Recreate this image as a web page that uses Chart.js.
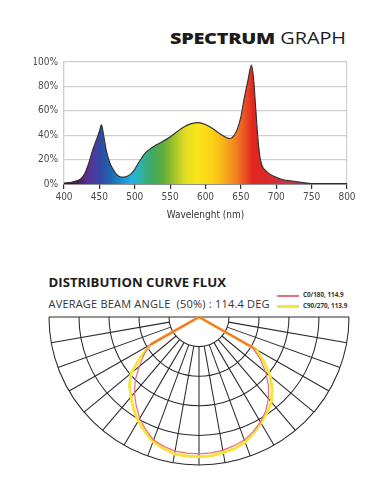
<!DOCTYPE html>
<html><head><meta charset="utf-8">
<script src="https://cdn.jsdelivr.net/npm/chart.js@4.4.1/dist/chart.umd.min.js"></script>
<style>
html,body{margin:0;padding:0;background:#fff;width:381px;height:492px;overflow:hidden;}
body{position:relative;font-family:"Open Sans",sans-serif;color:#1c1c1c;}
.abs{position:absolute;white-space:nowrap;}
#t1{right:35px;top:29.5px;font-size:16px;line-height:16px;transform:scaleX(1.24);transform-origin:right center;}
#t1 b{font-weight:800;letter-spacing:-0.2px}
#t1 span{font-weight:400}
#t2{left:48.5px;top:275.5px;font-size:13.2px;line-height:13.2px;font-weight:700;}
#t3{left:48.5px;top:297.5px;font-size:11px;line-height:11px;font-weight:400;color:#333;letter-spacing:0.2px}
#legend{left:277px;top:291px;}
.lg{position:relative;height:10.5px;}
.lg i{position:absolute;left:0;width:22px;}
.lg span{position:absolute;left:26px;top:0;font-size:6.3px;line-height:8px;font-weight:700;color:#333}
#cs{position:absolute;left:0;top:50px;}
#cp{position:absolute;left:0;top:300px;}
</style></head>
<body>
<div id="t1" class="abs"><b>SPECTRUM</b> <span>GRAPH</span></div>
<canvas id="cs" width="381" height="180"></canvas>
<div id="t2" class="abs">DISTRIBUTION CURVE FLUX</div>
<div id="t3" class="abs">AVERAGE BEAM ANGLE&nbsp; (50%) : 114.4 DEG</div>
<div id="legend" class="abs"></div>
<canvas id="cp" width="381" height="180"></canvas>
<script>
// ---------- Spectrum data ----------
const wavelengths = [400,410,420,425,430,435,440,445,450,453,456,460,465,470,475,480,485,490,495,500,505,510,515,520,530,540,550,560,570,580,590,600,610,620,630,635,640,645,650,655,660,665,668,671,674,677,680,685,690,700,710,720,730,740,750,760,800];
const intensity   = [0.8,1.5,3,5,9.5,17,27,35,43,48.5,40,27,17,11.5,7.5,5.8,5.6,6.5,8.5,12,17,21.5,25.5,28,32,35,38.5,43,47,49.5,50.3,48.8,45.5,41.3,38,37.3,39.5,45,55,71,85,97.5,86,62,38,22,15,11,8.5,5.5,3.5,2.6,1.9,1,0.3,0,0];
const xTicks = [400,450,500,550,600,650,700,750,800];
const yTicks = [0,20,40,60,80,100];

// spectral colour ramp (style)
const rampNm  = [400,418,430,442,452,466,482,496,508,522,540,556,572,588,610,628,642,655,667,690,720,770];
const rampCol = ['#2a1c2c','#3a1e4a','#5c2a8a','#4b3b9e','#2f4ba3','#1f66b0','#1c8fd2','#20b3e3','#2db4a8','#3da96a','#5cad3c','#a4c42c','#e2de20','#f8e51b','#fbd214','#f7aa1a','#f2841e','#ec5424','#e2251f','#da2a2a','#c5354a','#7a2236'];

// ---------- Polar data ----------
const polarAngles = [-90,-70,-60,-55,-50,-45,-40,-35,-30,-25,-20,-15,-10,-5,0,5,10,15,20,25,30,35,40,45,50,55,60,70,90];
const c0_180  = [0,0,0.38,0.45,0.52,0.60,0.67,0.73,0.79,0.84,0.885,0.905,0.92,0.923,0.925,0.922,0.915,0.90,0.885,0.855,0.82,0.775,0.72,0.655,0.58,0.50,0.41,0,0];
const c90_270 = [0,0,0.37,0.48,0.59,0.655,0.705,0.76,0.81,0.855,0.895,0.92,0.94,0.943,0.945,0.942,0.93,0.92,0.90,0.865,0.825,0.79,0.75,0.69,0.62,0.53,0.44,0,0];
const seriesNames = ['C0/180, 114.9','C90/270, 113.9'];
const ringRadii = [0.2,0.4,0.6,0.8,1.0];
const spokeAngles = [-80,-70,-60,-50,-40,-30,-20,-10,0,10,20,30,40,50,60,70,80];

const tickFont = {family:'"Liberation Sans Narrow","DejaVu Sans Condensed",sans-serif', size:10};

new Chart(document.getElementById('cs'), {
  type:'line',
  data:{datasets:[{
    data: wavelengths.map((w,i)=>({x:w,y:intensity[i]})),
    borderColor:'#2e2e2e', borderWidth:1.1, pointRadius:0,
    cubicInterpolationMode:'monotone', fill:'origin',
    backgroundColor:(c)=>{
      const ch=c.chart; if(!ch.chartArea) return 'transparent';
      const xs=ch.scales.x;
      const g=ch.ctx.createLinearGradient(xs.getPixelForValue(400),0,xs.getPixelForValue(800),0);
      rampNm.forEach((nm,i)=>g.addColorStop((nm-400)/400,rampCol[i]));
      return g;
    }
  }]},
  options:{
    responsive:false, animation:false, events:[],
    layout:{padding:{left:34,right:34,top:11,bottom:9}},
    plugins:{legend:{display:false},tooltip:{enabled:false}},
    scales:{
      x:{type:'linear',min:400,max:800,
        afterBuildTicks:(s)=>{s.ticks=xTicks.map(v=>({value:v}));},
        afterFit:(s)=>{s.height=37;},
        ticks:{font:tickFont,color:'#4a4a4a',padding:2,maxRotation:0},
        grid:{color:(c)=>(c.tick&&(c.tick.value===400||c.tick.value===800))?'#cfcfcf':'rgba(0,0,0,0)',tickColor:'#333',tickLength:5,lineWidth:1.2},
        border:{color:'#333',width:1.4},
        title:{display:true,text:'Wavelenght (nm)',font:{family:tickFont.family,size:10},color:'#333',padding:0}
      },
      y:{min:0,max:100,
        afterBuildTicks:(s)=>{s.ticks=yTicks.map(v=>({value:v}));},
        afterFit:(s)=>{s.width=30;},
        ticks:{font:tickFont,color:'#4a4a4a',padding:6,callback:(v)=>v+'%'},
        grid:{color:'#cfcfcf',lineWidth:1.2,drawTicks:false},
        border:{color:'#cfcfcf',width:1.2}
      }
    }
  }
});

// ---------- Polar chart ----------
const toXY = (vals)=>polarAngles.map((a,i)=>{const t=a*Math.PI/180;return {x:vals[i]*Math.sin(t),y:-vals[i]*Math.cos(t)};});
const centerSeg = (col)=>(ctx)=>{const p0=ctx.p0.parsed,p1=ctx.p1.parsed;
  const z=(p)=>Math.abs(p.x)<1e-9&&Math.abs(p.y)<1e-9; return (z(p0)||z(p1))?col:undefined;};

const polarGrid = {
  id:'polarGrid',
  beforeDatasetsDraw(chart){
    const ctx=chart.ctx, xs=chart.scales.x, ys=chart.scales.y;
    const cx=xs.getPixelForValue(0), cy=ys.getPixelForValue(0);
    const rx=xs.getPixelForValue(1)-cx, ry=ys.getPixelForValue(-1)-cy;
    ctx.save(); ctx.strokeStyle='#2a2a2a'; ctx.lineWidth=1.05;
    ringRadii.forEach(r=>{ctx.beginPath();ctx.ellipse(cx,cy,rx*r,ry*r,0,0,Math.PI);ctx.stroke();});
    const r0=ringRadii[0];
    spokeAngles.forEach(a=>{const t=a*Math.PI/180;ctx.beginPath();
      ctx.moveTo(cx+rx*r0*Math.sin(t),cy+ry*r0*Math.cos(t));
      ctx.lineTo(cx+rx*Math.sin(t),cy+ry*Math.cos(t));ctx.stroke();});
    ctx.beginPath();ctx.moveTo(cx-rx,cy);ctx.lineTo(cx+rx,cy);ctx.stroke();
    ctx.restore();
  }
};

const polarColors=['#e66f7c','#f4e53c'];
new Chart(document.getElementById('cp'), {
  type:'scatter',
  data:{datasets:[
    {label:seriesNames[0],data:toXY(c0_180),showLine:true,pointRadius:0,borderColor:polarColors[0],borderWidth:1.2,clip:false,
     borderJoinStyle:'round',segment:{borderColor:centerSeg('#ec6a2c')}},
    {label:seriesNames[1],data:toXY(c90_270),showLine:true,pointRadius:0,borderColor:polarColors[1],borderWidth:3,clip:false,
     borderJoinStyle:'round',segment:{borderColor:centerSeg('#f4a83a')}}
  ]},
  options:{
    responsive:false, animation:false, events:[],
    layout:{padding:{left:49,right:32,top:17,bottom:15}},
    plugins:{legend:{display:false},tooltip:{enabled:false}},
    scales:{x:{type:'linear',min:-1,max:1,display:false},y:{type:'linear',min:-1,max:0,display:false}}
  },
  plugins:[polarGrid]
});

// legend (HTML)
const lg=document.getElementById('legend');
seriesNames.forEach((n,i)=>{const d=document.createElement('div');d.className='lg';
  d.innerHTML='<i style="top:'+(i?3:3.5)+'px;height:'+(i?3:2)+'px;background:'+polarColors[i]+'"></i><span>'+n+'</span>';lg.appendChild(d);});
</script>
</body></html>
